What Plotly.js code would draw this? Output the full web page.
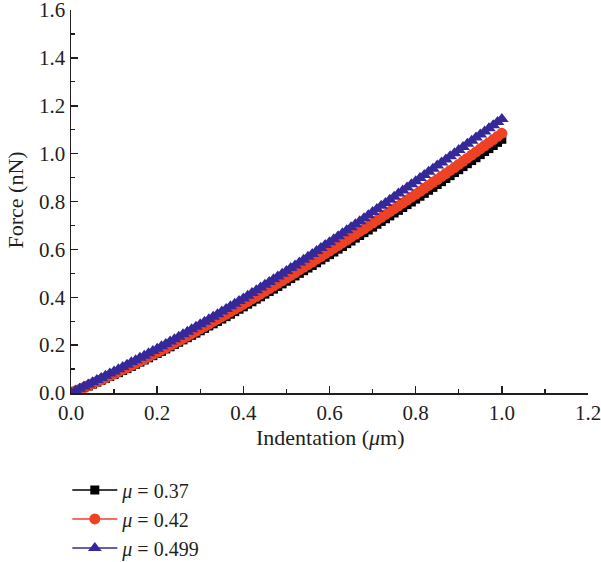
<!DOCTYPE html>
<html>
<head>
<meta charset="utf-8">
<script src="https://cdn.plot.ly/plotly-3.0.1.min.js"></script>
<style>html,body{margin:0;padding:0;background:#fff;}#chart{width:601px;height:562px;}</style>
</head>
<body>
<div id="chart"></div>
<script>
const indentation = [0,0.01,0.02,0.03,0.04,0.05,0.06,0.07,0.08,0.09,0.10,0.11,0.12,0.13,0.14,0.15,0.16,0.17,0.18,0.19,0.20,0.21,0.22,0.23,0.24,0.25,0.26,0.27,0.28,0.29,0.30,0.31,0.32,0.33,0.34,0.35,0.36,0.37,0.38,0.39,0.40,0.41,0.42,0.43,0.44,0.45,0.46,0.47,0.48,0.49,0.50,0.51,0.52,0.53,0.54,0.55,0.56,0.57,0.58,0.59,0.60,0.61,0.62,0.63,0.64,0.65,0.66,0.67,0.68,0.69,0.70,0.71,0.72,0.73,0.74,0.75,0.76,0.77,0.78,0.79,0.80,0.81,0.82,0.83,0.84,0.85,0.86,0.87,0.88,0.89,0.90,0.91,0.92,0.93,0.94,0.95,0.96,0.97,0.98,0.99,1.00];

const force037 = [0,0.007,0.015,0.022,0.029,0.037,0.045,0.053,0.061,0.069,0.077,0.085,0.094,0.102,0.111,0.120,0.129,0.138,0.147,0.156,0.165,0.174,0.184,0.193,0.203,0.212,0.222,0.231,0.241,0.250,0.260,0.270,0.280,0.289,0.299,0.309,0.319,0.329,0.340,0.350,0.360,0.371,0.381,0.392,0.402,0.413,0.424,0.434,0.445,0.456,0.467,0.478,0.489,0.500,0.511,0.522,0.533,0.544,0.556,0.567,0.578,0.589,0.601,0.612,0.624,0.635,0.647,0.658,0.670,0.681,0.693,0.705,0.717,0.728,0.740,0.752,0.763,0.775,0.787,0.798,0.810,0.822,0.834,0.847,0.859,0.871,0.883,0.896,0.908,0.921,0.933,0.946,0.958,0.971,0.983,0.996,1.009,1.021,1.034,1.047,1.060];

const force042 = [0,0.008,0.015,0.023,0.031,0.039,0.047,0.055,0.063,0.072,0.080,0.089,0.098,0.106,0.115,0.124,0.133,0.142,0.152,0.161,0.170,0.180,0.189,0.199,0.208,0.218,0.228,0.238,0.248,0.258,0.268,0.278,0.288,0.299,0.309,0.319,0.329,0.340,0.350,0.361,0.371,0.382,0.393,0.403,0.414,0.425,0.436,0.447,0.458,0.469,0.480,0.491,0.502,0.514,0.525,0.536,0.547,0.559,0.570,0.582,0.593,0.605,0.616,0.628,0.639,0.651,0.663,0.675,0.686,0.698,0.710,0.722,0.734,0.746,0.758,0.770,0.782,0.794,0.806,0.818,0.830,0.842,0.855,0.867,0.880,0.892,0.905,0.917,0.930,0.942,0.955,0.968,0.981,0.994,1.007,1.020,1.033,1.046,1.059,1.072,1.085];

const force0499 = [0,0.009,0.018,0.027,0.036,0.045,0.054,0.063,0.072,0.081,0.090,0.099,0.109,0.118,0.128,0.137,0.147,0.156,0.166,0.175,0.185,0.195,0.205,0.215,0.225,0.235,0.245,0.256,0.266,0.277,0.287,0.298,0.308,0.319,0.329,0.340,0.351,0.362,0.373,0.384,0.395,0.406,0.418,0.429,0.441,0.452,0.464,0.475,0.487,0.498,0.510,0.522,0.533,0.545,0.557,0.569,0.581,0.593,0.606,0.618,0.630,0.642,0.655,0.667,0.680,0.692,0.705,0.718,0.730,0.743,0.756,0.769,0.782,0.794,0.807,0.820,0.833,0.846,0.859,0.872,0.885,0.898,0.911,0.924,0.937,0.950,0.963,0.976,0.989,1.002,1.015,1.028,1.041,1.054,1.067,1.080,1.093,1.106,1.119,1.132,1.145];

const seriesNames = ['<i>μ</i> = 0.37', '<i>μ</i> = 0.42', '<i>μ</i> = 0.499'];
const xTickVals = [0, 0.2, 0.4, 0.6, 0.8, 1.0, 1.2];
const xTickText = ['0.0', '0.2', '0.4', '0.6', '0.8', '1.0', '1.2'];
const yTickVals = [0, 0.2, 0.4, 0.6, 0.8, 1.0, 1.2, 1.4, 1.6];
const yTickText = ['0.0', '0.2', '0.4', '0.6', '0.8', '1.0', '1.2', '1.4', '1.6'];
const xAxisTitle = 'Indentation (<i>μ</i>m)';
const yAxisTitle = 'Force (nN)';

const FONT = 'Liberation Serif, DejaVu Serif, serif';
const TXT = '#231f20';

const traces = [
  {x: indentation, y: force037, name: seriesNames[0], type: 'scatter', mode: 'lines+markers',
   line: {color: '#000000', width: 1.5}, marker: {symbol: 'square', size: 9, color: '#000000'}},
  {x: indentation, y: force042, name: seriesNames[1], type: 'scatter', mode: 'lines+markers',
   line: {color: '#ef4123', width: 1.5}, marker: {symbol: 'circle', size: 11, color: '#ef4123'}},
  {x: indentation, y: force0499, name: seriesNames[2], type: 'scatter', mode: 'lines+markers',
   line: {color: '#35289a', width: 1.5}, marker: {symbol: 'triangle-up', size: 12, color: '#35289a'}}
];

const axisCommon = {
  showline: true, linecolor: '#231f20', linewidth: 1.5, mirror: false,
  ticks: 'inside', ticklen: 7, tickwidth: 1.5, tickcolor: '#231f20',
  showgrid: false, zeroline: false, automargin: false,
  ticklabeloverflow: 'allow',
  tickfont: {family: FONT, size: 21, color: TXT},
  minor: {ticks: 'inside', ticklen: 4, tickwidth: 1.2, tickcolor: '#231f20', showgrid: false}
};

const layout = {
  width: 601, height: 562,
  margin: {l: 71, r: 13, t: 10, b: 169, autoexpand: false},
  paper_bgcolor: '#ffffff', plot_bgcolor: '#ffffff',
  showlegend: true,
  xaxis: Object.assign({}, axisCommon, {
    range: [0, 1.2], tickvals: xTickVals, ticktext: xTickText,
    minor: Object.assign({}, axisCommon.minor, {dtick: 0.1, tick0: 0})
  }),
  yaxis: Object.assign({}, axisCommon, {
    range: [0, 1.6001], tickvals: yTickVals, ticktext: yTickText,
    minor: Object.assign({}, axisCommon.minor, {dtick: 0.1, tick0: 0})
  }),
  annotations: [
    {text: xAxisTitle, xref: 'paper', yref: 'paper', x: 0.501, y: -0.117,
     xanchor: 'center', yanchor: 'middle', showarrow: false,
     font: {family: FONT, size: 22, color: TXT}},
    {text: yAxisTitle, xref: 'paper', yref: 'paper', x: -0.108, y: 0.503,
     xanchor: 'center', yanchor: 'middle', showarrow: false, textangle: -90,
     font: {family: FONT, size: 22, color: TXT}}
  ],
  legend: {
    xref: 'container', yref: 'container',
    x: 0.112, y: 0.163, xanchor: 'left', yanchor: 'top',
    orientation: 'v', bgcolor: 'rgba(0,0,0,0)',
    font: {family: FONT, size: 20, color: TXT},
    tracegroupgap: 0, itemwidth: 45
  }
};

Plotly.newPlot('chart', traces, layout, {displayModeBar: false, staticPlot: true});
</script>
</body>
</html>
